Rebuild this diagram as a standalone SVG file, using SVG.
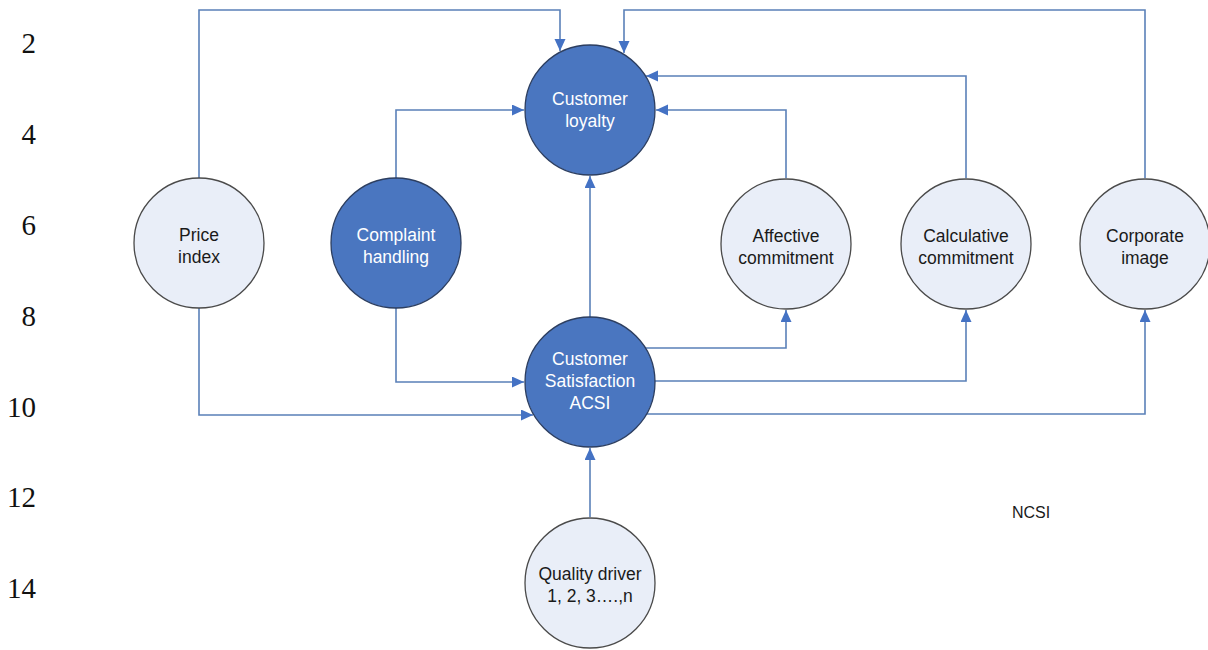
<svg xmlns="http://www.w3.org/2000/svg" width="1208" height="650" viewBox="0 0 1208 650">
  <style>
    .ln { font-family: "Liberation Serif", "Times New Roman", serif; font-size: 29px; fill: #111; text-anchor: end; }
    .node-dark circle { fill: #4a76c0; stroke: #2c3e60; stroke-width: 1.3; }
    .node-light circle { fill: #e9eef8; stroke: #4a4a4a; stroke-width: 1.3; }
    .node-dark text { fill: #ffffff; }
    .node-light text { fill: #1a1a1a; }
    .lbl { font-family: "Liberation Sans", Arial, sans-serif; font-size: 17.5px; text-anchor: middle; }
    .conn { fill: none; stroke: #5a80b8; stroke-width: 1.6; marker-end: url(#arrow); }
    .note { font-family: "Liberation Sans", Arial, sans-serif; font-size: 16px; fill: #1a1a1a; }
  </style>
  <defs>
    <marker id="arrow" markerUnits="userSpaceOnUse" markerWidth="13" markerHeight="12" refX="12" refY="5.5" orient="auto">
      <path d="M0,0 L12,5.5 L0,11 z" fill="#4472c4"/>
    </marker>
  </defs>
  <rect width="1208" height="650" fill="#ffffff"/>

  <!-- line numbers -->
  <g id="line-numbers">
    <text class="ln" x="36" y="53">2</text>
    <text class="ln" x="36" y="144">4</text>
    <text class="ln" x="36" y="235">6</text>
    <text class="ln" x="36" y="326">8</text>
    <text class="ln" x="36" y="417">10</text>
    <text class="ln" x="36" y="507">12</text>
    <text class="ln" x="36" y="598">14</text>
  </g>

  <!-- connectors -->
  <g id="connectors">
    <path class="conn" d="M199,178 V10 H560 V51"/>
    <path class="conn" d="M1145,178 V10 H624 V53"/>
    <path class="conn" d="M966,178 V76 H646"/>
    <path class="conn" d="M786,178 V110 H656"/>
    <path class="conn" d="M396,178 V110 H524"/>
    <path class="conn" d="M590,317 V176"/>
    <path class="conn" d="M396,308 V382 H524"/>
    <path class="conn" d="M199,308 V415 H533"/>
    <path class="conn" d="M645,348 H786 V310"/>
    <path class="conn" d="M655,381 H966 V310"/>
    <path class="conn" d="M647,414 H1145 V310"/>
    <path class="conn" d="M590,517 V448"/>
  </g>

  <!-- nodes -->
  <g id="customer-loyalty" class="node-dark">
    <circle cx="590" cy="110" r="65"/>
    <text class="lbl" x="590" y="105">Customer</text>
    <text class="lbl" x="590" y="127">loyalty</text>
  </g>
  <g id="price-index" class="node-light">
    <circle cx="199" cy="243" r="65"/>
    <text class="lbl" x="199" y="241">Price</text>
    <text class="lbl" x="199" y="263">index</text>
  </g>
  <g id="complaint-handling" class="node-dark">
    <circle cx="396" cy="243" r="65"/>
    <text class="lbl" x="396" y="241">Complaint</text>
    <text class="lbl" x="396" y="263">handling</text>
  </g>
  <g id="affective-commitment" class="node-light">
    <circle cx="786" cy="244" r="65"/>
    <text class="lbl" x="786" y="242">Affective</text>
    <text class="lbl" x="786" y="264">commitment</text>
  </g>
  <g id="calculative-commitment" class="node-light">
    <circle cx="966" cy="244" r="65"/>
    <text class="lbl" x="966" y="242">Calculative</text>
    <text class="lbl" x="966" y="264">commitment</text>
  </g>
  <g id="corporate-image" class="node-light">
    <circle cx="1145" cy="244" r="65"/>
    <text class="lbl" x="1145" y="242">Corporate</text>
    <text class="lbl" x="1145" y="264">image</text>
  </g>
  <g id="customer-satisfaction" class="node-dark">
    <circle cx="590" cy="382" r="65"/>
    <text class="lbl" x="590" y="365">Customer</text>
    <text class="lbl" x="590" y="387">Satisfaction</text>
    <text class="lbl" x="590" y="409">ACSI</text>
  </g>
  <g id="quality-driver" class="node-light">
    <circle cx="590" cy="583" r="65"/>
    <text class="lbl" x="590" y="580">Quality driver</text>
    <text class="lbl" x="590" y="602">1, 2, 3….,n</text>
  </g>

  <text class="note" x="1012" y="518">NCSI</text>
</svg>
